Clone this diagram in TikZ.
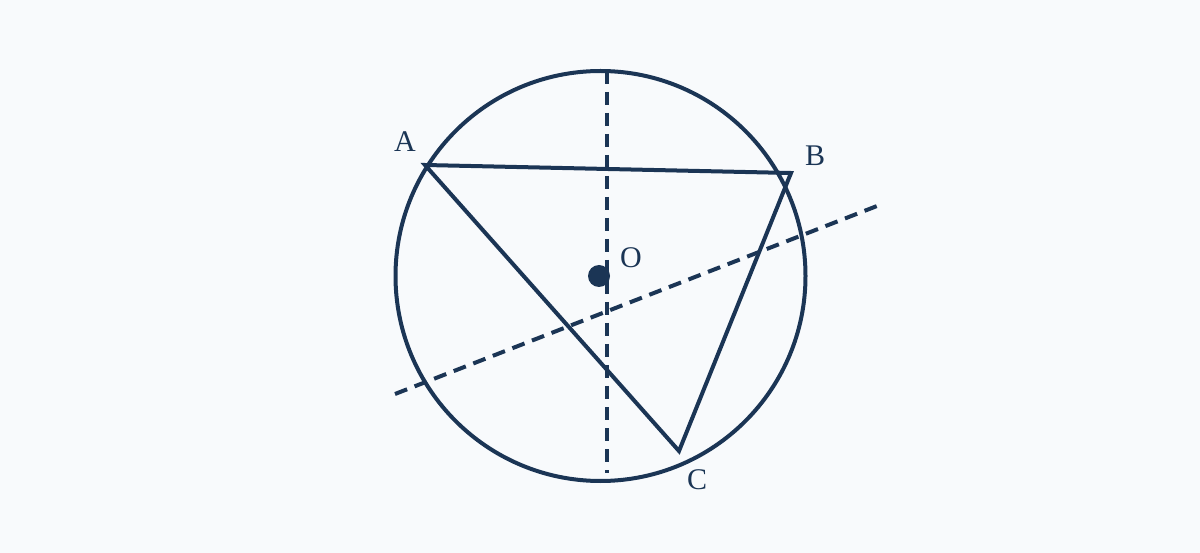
\documentclass[tikz,border=0pt]{standalone}
\usepackage{fontspec}
\setmainfont{Liberation Serif}
\definecolor{ink}{HTML}{1B3555}
\definecolor{bg}{HTML}{F8FAFC}
\begin{document}
\begin{tikzpicture}[x=1pt,y=-1pt,
  geo/.style={draw=ink,line width=4pt,line join=miter},
  dashline/.style={draw=ink,line width=4pt,dash pattern=on 13pt off 8pt},
  lbl/.style={text=ink,font=\fontsize{30}{32}\selectfont,inner sep=0pt}]
\fill[bg] (0,0) rectangle (1200,553);
\useasboundingbox (0,0) rectangle (1200,553);
\coordinate (O) at (600.5,276);
\coordinate (A) at (425,165);
\coordinate (B) at (791,173);
\coordinate (C) at (679,451);
\coordinate (v1) at (607,71);
\coordinate (v2) at (607,473);
\coordinate (d1) at (395,394);
\coordinate (d2) at (877,206);
\draw[geo] (O) circle[radius=205];
\draw[dashline] (v1) -- (v2);
\draw[dashline] (d1) -- (d2);
\draw[geo] (A) -- (B) -- (C) -- cycle;
\fill[ink] (599,276) circle[radius=11];
\node[lbl] (la) at (405,142) {A};
\node[lbl] (lb) at (815,156) {B};
\node[lbl] (lo) at (631,258) {O};
\node[lbl] (lc) at (697,480) {C};
\end{tikzpicture}
\end{document}
